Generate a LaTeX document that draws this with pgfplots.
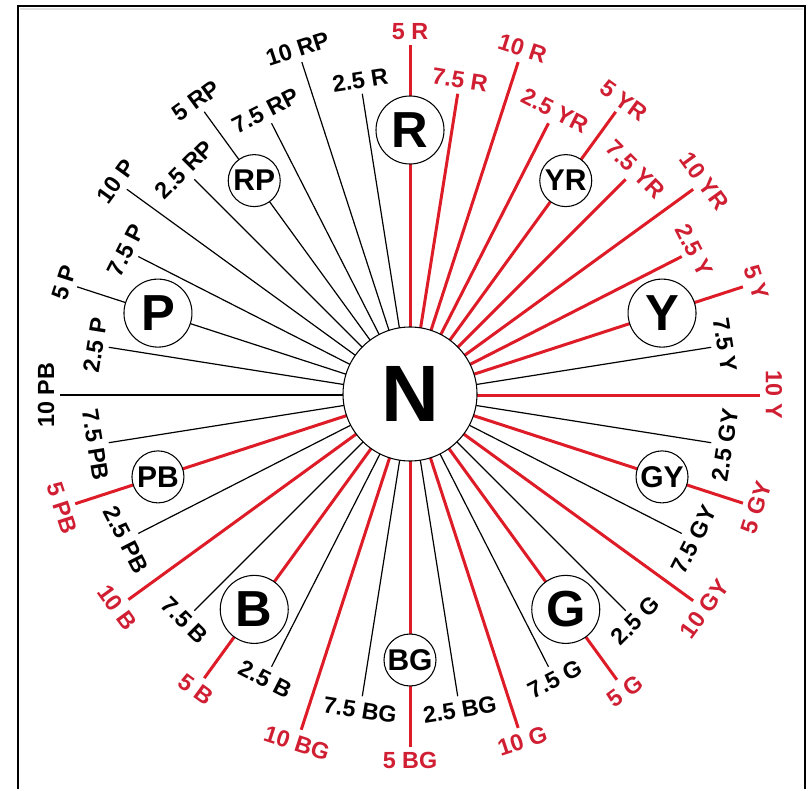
\documentclass[border=0pt]{standalone}
\usepackage{pgfplots}
\pgfplotsset{compat=1.18}
\usepackage{pgfplotstable}
\usepackage{fontspec}
\setmainfont{Liberation Sans}
\definecolor{mred}{RGB}{222,28,40}
\definecolor{lred}{RGB}{208,30,50}

% hue lines: angle (deg), outer radius (px)
\pgfplotstableread{
a r
90 350
81 305
72 350
63 305
54 350
45 305
36 350
27 305
18 350
0 350
-18 350
-36 350
-54 352
-72 350
-90 352
-108 352
-126 350
-144 348
-162 352
}\redlines

\pgfplotstableread{
a r
99 305
108 350
117 305
126 350
135 305
144 350
153 305
162 350
171 305
-171 305
-153 305
-135 305
-117 305
-99 305
-81 305
-63 305
-45 305
-27 305
-9 305
9 305
}\blacklines

\pgfplotstableread{
a r
180 350
}\pblines

\newcommand\labfont{\fontsize{17.5}{19}\selectfont\bfseries}
\newcommand{\labU}[4]{\node[rotate={#1-90},anchor=south,text=#3,font=\labfont,inner sep=1pt] at (axis cs:{#2*cos(#1)},{#2*sin(#1)}) {#4};}
\newcommand{\labD}[4]{\node[rotate={#1+90},anchor=north,text=#3,font=\labfont,inner sep=1pt] at (axis cs:{#2*cos(#1)},{#2*sin(#1)}) {#4};}
\newcommand{\bigc}[2]{\draw[line width=0.8pt,fill=white] (axis cs:{265*cos(#1)},{265*sin(#1)}) circle[radius=34];
 \node[font=\fontsize{38}{40}\selectfont\bfseries] at (axis cs:{265*cos(#1)},{265*sin(#1)}) {#2};}
\newcommand{\smallc}[2]{\draw[line width=0.8pt,fill=white] (axis cs:{265*cos(#1)},{265*sin(#1)}) circle[radius=26];
 \node[font=\fontsize{22.5}{24}\selectfont\bfseries] at (axis cs:{265*cos(#1)},{265*sin(#1)}) {#2};}

\begin{document}
\begin{tikzpicture}
\begin{axis}[width=607.5pt,height=591.75pt,scale only axis,
  xmin=-410,xmax=400,ymin=-394,ymax=395,hide axis,clip=false]
\fill[white] (rel axis cs:0,0) rectangle (rel axis cs:1,1);
\addplot[black!12,line width=2pt] coordinates {(-390,386) (393,386)};
\addplot[black,line width=1.5pt] coordinates {(-392,-394) (-392,389) (395,389) (395,-394)};
\addplot[black,line width=0.9pt,quiver={u={\thisrow{r}*cos(\thisrow{a})},v={\thisrow{r}*sin(\thisrow{a})}}] table[x expr=0,y expr=0]{\blacklines};
\addplot[black,line width=1.2pt,quiver={u={\thisrow{r}*cos(\thisrow{a})},v={\thisrow{r}*sin(\thisrow{a})}}] table[x expr=0,y expr=0]{\pblines};
\addplot[mred,line width=2.25pt,quiver={u={\thisrow{r}*cos(\thisrow{a})},v={\thisrow{r}*sin(\thisrow{a})}}] table[x expr=0,y expr=0]{\redlines};

\draw[line width=0.8pt,fill=white] (axis cs:0,1) circle[radius=67];
\node[font=\fontsize{60}{64}\selectfont\bfseries] at (axis cs:0,1) {N};
\bigc{90}{R}
\bigc{18}{Y}
\bigc{-54}{G}
\bigc{-126}{B}
\bigc{162}{P}
\smallc{54}{YR}
\smallc{-18}{GY}
\smallc{-90}{BG}
\smallc{-162}{PB}
\smallc{126}{RP}

% upper labels
\labU{90}{354}{lred}{5 R}
\labU{81}{309}{lred}{7.5 R}
\labU{72}{354}{lred}{10 R}
\labU{63}{309}{lred}{2.5 YR}
\labU{54}{354}{lred}{5 YR}
\labU{45}{309}{lred}{7.5 YR}
\labU{36}{354}{lred}{10 YR}
\labU{27}{309}{lred}{2.5 Y}
\labU{18}{354}{lred}{5 Y}
\labU{9}{309}{black}{7.5 Y}
\labU{0}{354}{lred}{10 Y}
\labU{99}{309}{black}{2.5 R}
\labU{108}{354}{black}{10 RP}
\labU{117}{309}{black}{7.5 RP}
\labU{126}{354}{black}{5 RP}
\labU{135}{309}{black}{2.5 RP}
\labU{144}{354}{black}{10 P}
\labU{153}{309}{black}{7.5 P}
\labU{162}{354}{black}{5 P}
\labU{171}{309}{black}{2.5 P}
\labU{180}{354}{black}{10 PB}
% lower labels
\labD{-9}{309}{black}{2.5 GY}
\labD{-18}{354}{lred}{5 GY}
\labD{-27}{309}{black}{7.5 GY}
\labD{-36}{354}{lred}{10 GY}
\labD{-45}{309}{black}{2.5 G}
\labD{-54}{356}{lred}{5 G}
\labD{-63}{309}{black}{7.5 G}
\labD{-72}{354}{lred}{10 G}
\labD{-81}{309}{black}{2.5 BG}
\labD{-90}{356}{lred}{5 BG}
\labD{-99}{309}{black}{7.5 BG}
\labD{-108}{356}{lred}{10 BG}
\labD{-117}{309}{black}{2.5 B}
\labD{-126}{354}{lred}{5 B}
\labD{-135}{309}{black}{7.5 B}
\labD{-144}{352}{lred}{10 B}
\labD{-153}{309}{black}{2.5 PB}
\labD{-162}{356}{lred}{5 PB}
\labD{-171}{309}{black}{7.5 PB}
\end{axis}
\end{tikzpicture}
\end{document}
